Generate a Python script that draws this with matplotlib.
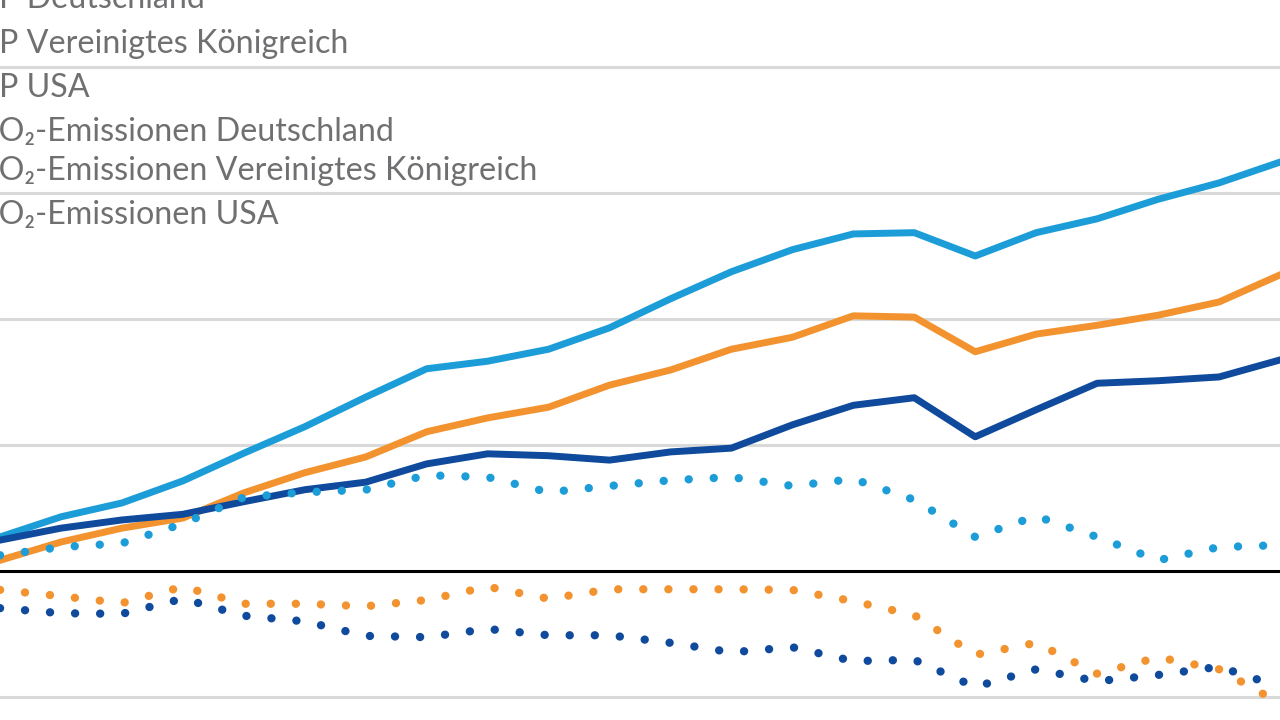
import matplotlib
matplotlib.use("Agg")
from matplotlib import pyplot as plt

# Jahre (linker Bildrand = 1991, rechter Bildrand = 2012)
years = list(range(1991, 2013))

# Veränderung gegenüber 1990 in %
bip_de = [4.9, 6.8, 8.1, 9.0, 11.0, 12.9, 14.1, 17.0, 18.6, 18.3, 17.6,
          18.9, 19.5, 23.2, 26.3, 27.5, 21.3, 25.6, 29.8, 30.2, 30.8, 33.5]
bip_uk = [1.7, 4.6, 6.8, 8.4, 12.4, 15.6, 18.1, 22.1, 24.3, 26.0, 29.5,
          31.9, 35.2, 37.1, 40.5, 40.3, 34.8, 37.6, 39.0, 40.6, 42.7, 47.0]
bip_us = [5.4, 8.6, 10.8, 14.3, 18.7, 22.9, 27.6, 32.1, 33.3, 35.2, 38.6,
          43.2, 47.5, 51.0, 53.5, 53.7, 50.0, 53.7, 55.9, 59.0, 61.6, 64.9]
co2_de = [-5.9, -6.7, -6.8, -4.4, -7.1, -8.0, -10.3, -10.5, -9.2, -10.2, -10.2,
          -11.4, -12.9, -12.1, -14.3, -14.1, -18.4, -15.6, -17.5, -16.5, -15.2, -18.4]
co2_uk = [-3.0, -4.0, -5.1, -2.5, -5.2, -5.2, -5.6, -4.6, -2.5, -4.4, -2.9,
          -2.9, -2.9, -3.0, -4.8, -7.0, -13.3, -11.4, -16.3, -13.7, -15.6, -21.0]
co2_us = [2.5, 3.8, 4.4, 7.5, 11.7, 12.5, 12.9, 15.2, 14.9, 12.5, 13.5,
          14.4, 14.9, 13.5, 14.6, 11.3, 5.4, 8.7, 5.4, 1.7, 3.8, 4.1]

legend_labels = [
    "BIP Deutschland",
    "BIP Vereinigtes Königreich",
    "BIP USA",
    "CO\u2082-Emissionen Deutschland",
    "CO\u2082-Emissionen Vereinigtes Königreich",
    "CO\u2082-Emissionen USA",
]

DARK_BLUE = "#0f4a9c"
ORANGE = "#f3932f"
LIGHT_BLUE = "#1c9dd8"
TEXT_GREY = "#707072"
dotted = (0, (0.01, 3.0))

fig = plt.figure(figsize=(12.8, 7.2), dpi=100)
ax = fig.add_axes([0, 0, 1, 1])

for yv in [-20, 20, 40, 60, 80]:
    ax.axhline(yv, color="#d9d9d9", lw=2.2, zorder=1)
ax.axhline(0, color="black", lw=2.2, zorder=2)

ax.plot(years, bip_us, color=LIGHT_BLUE, lw=5, zorder=3)
ax.plot(years, bip_uk, color=ORANGE, lw=5, zorder=3)
ax.plot(years, bip_de, color=DARK_BLUE, lw=5, zorder=3)
ax.plot(years, co2_us, color=LIGHT_BLUE, lw=6, ls=dotted, dash_capstyle="round", zorder=4)
ax.plot(years, co2_uk, color=ORANGE, lw=6, ls=dotted, dash_capstyle="round", zorder=4)
ax.plot(years, co2_de, color=DARK_BLUE, lw=6, ls=dotted, dash_capstyle="round", zorder=4)

ax.set_xlim(1991, 2012)
ax.set_ylim(-23.65, 90.63)
ax.axis("off")

# Legende: links abgeschnitten wie im Bildausschnitt
font = dict(family=["Lato", "DejaVu Sans"], fontsize=23.2, color=TEXT_GREY)
renderer = fig.canvas.get_renderer()
probe = fig.text(0, 0, "BI", **font)
cut = probe.get_window_extent(renderer).width
probe.remove()

baselines = [8, 53, 97, 141, 180, 224]
for label, base in zip(legend_labels, baselines):
    shift = -1 if label.startswith("BIP") else 7
    fig.text((-cut + shift) / 1280, 1 - base / 720, label,
             va="baseline", ha="left", **font)

fig.savefig("out.png", dpi=100)
